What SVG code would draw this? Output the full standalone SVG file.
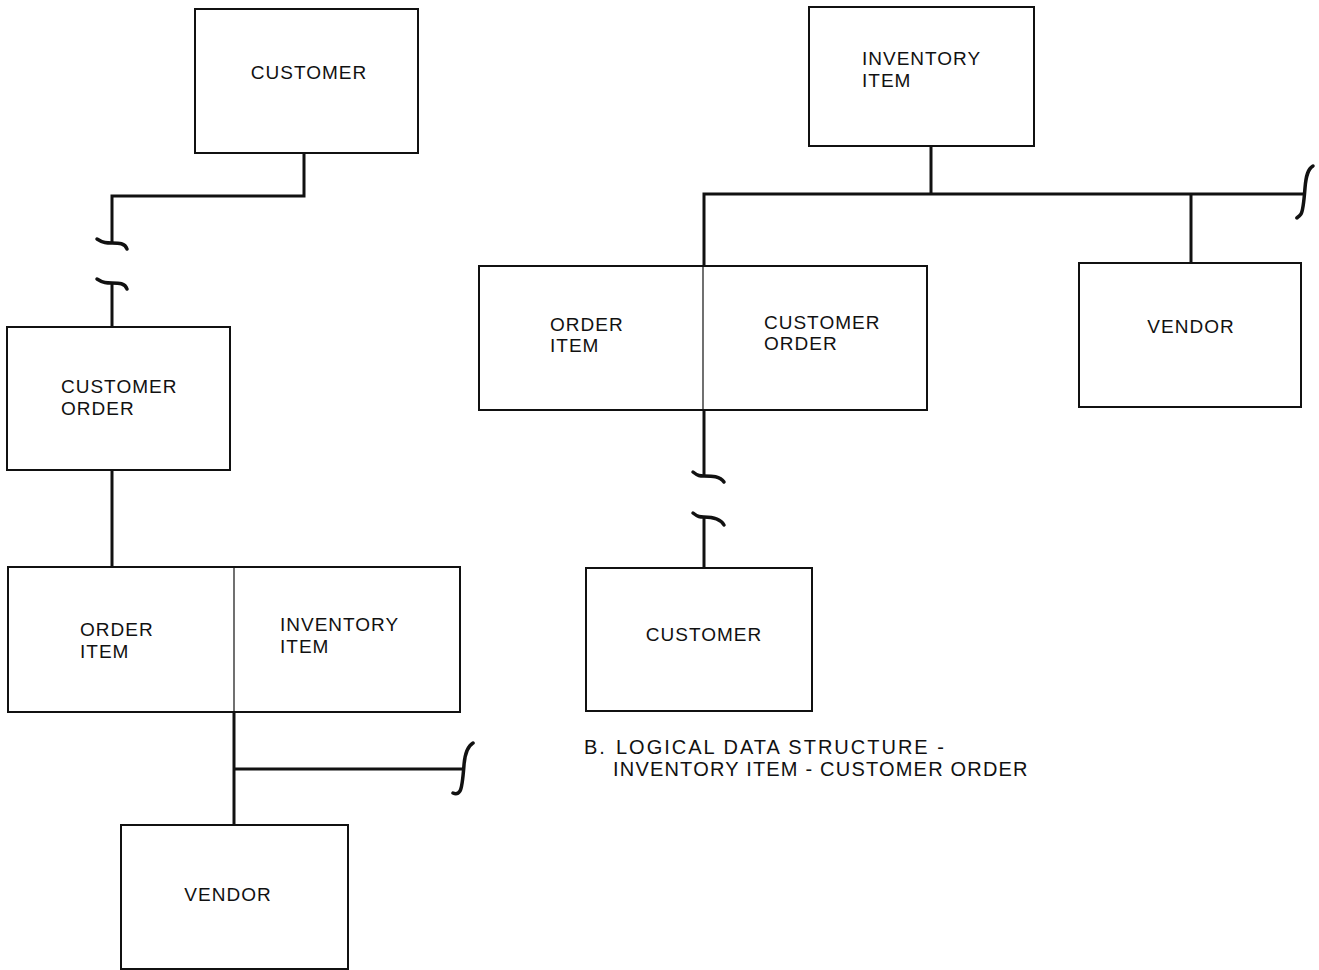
<svg xmlns="http://www.w3.org/2000/svg" width="1319" height="970" viewBox="0 0 1319 970">
  <style>
    .box { fill: none; stroke: #111; stroke-width: 2; }
    .div { stroke: #111; stroke-width: 1.2; }
    .ln { fill: none; stroke: #111; stroke-width: 3; stroke-linejoin: miter; }
    .mk { fill: none; stroke: #111; stroke-width: 3.5; stroke-linecap: round; }
    text { font-family: "Liberation Sans", Arial, sans-serif; font-size: 19px; letter-spacing: 1px; fill: #111; }
    .cap { font-size: 20px; }
  </style>
  <rect width="1319" height="970" fill="#fff"/>

  <!-- left structure -->
  <g id="l-customer">
    <rect class="box" x="195" y="9" width="223" height="144"/>
    <text x="309" y="79" text-anchor="middle">CUSTOMER</text>
  </g>
  <g id="l-customer-order">
    <rect class="box" x="7" y="327" width="223" height="143"/>
    <text x="61" y="393">CUSTOMER</text>
    <text x="61" y="415">ORDER</text>
  </g>
  <g id="l-order-inventory">
    <rect class="box" x="8" y="567" width="452" height="145"/>
    <line class="div" x1="234" y1="567" x2="234" y2="712"/>
    <text x="80" y="636">ORDER</text>
    <text x="80" y="658">ITEM</text>
    <text x="280" y="631">INVENTORY</text>
    <text x="280" y="653">ITEM</text>
  </g>
  <g id="l-vendor">
    <rect class="box" x="121" y="825" width="227" height="144"/>
    <text x="228" y="901" text-anchor="middle">VENDOR</text>
  </g>

  <!-- right structure -->
  <g id="r-inventory">
    <rect class="box" x="809" y="7" width="225" height="139"/>
    <text x="862" y="65">INVENTORY</text>
    <text x="862" y="87">ITEM</text>
  </g>
  <g id="r-order-customer">
    <rect class="box" x="479" y="266" width="448" height="144"/>
    <line class="div" x1="703" y1="266" x2="703" y2="410"/>
    <text x="550" y="331">ORDER</text>
    <text x="550" y="352">ITEM</text>
    <text x="764" y="329">CUSTOMER</text>
    <text x="764" y="350">ORDER</text>
  </g>
  <g id="r-vendor">
    <rect class="box" x="1079" y="263" width="222" height="144"/>
    <text x="1191" y="333" text-anchor="middle">VENDOR</text>
  </g>
  <g id="r-customer">
    <rect class="box" x="586" y="568" width="226" height="143"/>
    <text x="704" y="641" text-anchor="middle">CUSTOMER</text>
  </g>

  <g id="caption">
    <text class="cap" x="584" y="754" style="letter-spacing:2px">B.<tspan x="616">LOGICAL DATA STRUCTURE -</tspan></text>
    <text class="cap" x="613" y="776" style="letter-spacing:1.2px">INVENTORY ITEM - CUSTOMER ORDER</text>
  </g>

  <g id="connectors">
    <!-- left: customer to customer order, broken -->
    <path class="ln" d="M304,153 V196 H112 V243"/>
    <path class="mk" d="M97,239 C103,243 107,243 112,243 C119,243 125,243 127,249"/>
    <path class="mk" d="M97,279 C103,283 107,283 112,283 C119,283 125,283 127,289"/>
    <path class="ln" d="M112,283 V327"/>
    <!-- left: customer order to order item -->
    <path class="ln" d="M112,470 V567"/>
    <!-- left: inventory item to vendor, with open branch -->
    <path class="ln" d="M234,712 V825"/>
    <path class="ln" d="M234,769 H463"/>
    <path class="mk" d="M473,743 C468,746 465,752 464,765 C463,778 462,788 460,791 C458,794 455,794 453,793"/>

    <!-- right: inventory item to children -->
    <path class="ln" d="M931,146 V194"/>
    <path class="ln" d="M704,266 V194 H1305"/>
    <path class="ln" d="M1191,194 V263"/>
    <path class="mk" d="M1313,166 C1308,169 1306,175 1305,188 C1304,201 1303,211 1301,214 C1299,217 1296,218 1297,218"/>
    <!-- right: customer order to customer, broken -->
    <path class="ln" d="M704,410 V476"/>
    <path class="mk" d="M693,472 C698,476 700,476 704,476 C712,476 720,476 724,482"/>
    <path class="mk" d="M693,513 C698,517 700,517 704,517 C712,517 720,518 724,525"/>
    <path class="ln" d="M704,517 V568"/>
  </g>
</svg>
